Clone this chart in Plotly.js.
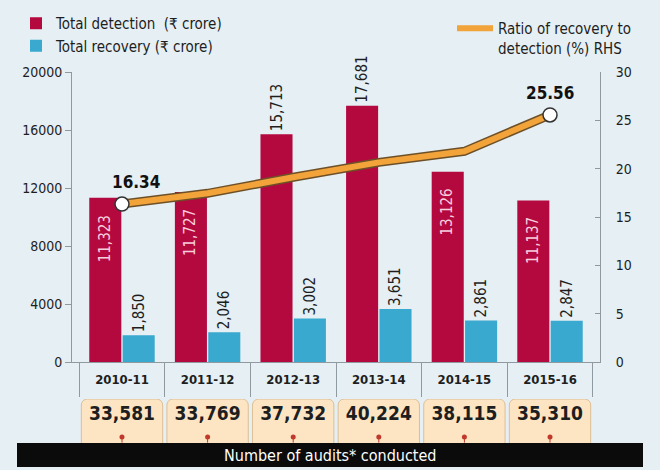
<!DOCTYPE html>
<html>
<head>
<meta charset="utf-8">
<script src="https://cdn.plot.ly/plotly-3.0.1.min.js"></script>
<style>
  html, body { margin: 0; padding: 0; background: #e5eff4; }
  #chart { width: 660px; height: 470px; }
</style>
</head>
<body>
<div id="chart"></div>
<script>
// Financial years shown on the category axis
const categories = ['2010-11', '2011-12', '2012-13', '2013-14', '2014-15', '2015-16'];
// Total detection (₹ crore)
const detection = [11323, 11727, 15713, 17681, 13126, 11137];
// Total recovery (₹ crore)
const recovery = [1850, 2046, 3002, 3651, 2861, 2847];
// Ratio of recovery to detection (%), right-hand scale
const ratio = [16.34, 17.45, 19.11, 20.65, 21.80, 25.56];
// Number of audits conducted each year
const audits = [33581, 33769, 37732, 40224, 38115, 35310];

const FONT = '"DejaVu Sans Condensed", "Liberation Sans Narrow", "Roboto", sans-serif';
const INK = '#1e1e1e';
const BG = '#e5eff4';
const RED = '#b4093f';
const BLUE = '#3aa9cf';
const ORANGE = '#f2a33a';
const ORANGE_EDGE = '#6e5028';
const AXIS = '#8e9aa0';

// Page geometry: plot area runs from the top of the value axes down to the audits band
const PX_LEFT = 72, PX_RIGHT = 600, PX_TOP = 72, PX_BOTTOM = 467;
const plotW = PX_RIGHT - PX_LEFT, plotH = PX_BOTTOM - PX_TOP;
const px2x = p => (p - PX_LEFT) / plotW;
const px2y = p => (PX_BOTTOM - p) / plotH;
const fmt = v => v.toLocaleString('en-US');

// Tall bars carry their label above the bar; the rest get it inside, below the top
const detInside = detection.map(v => v <= 15000);
const detPos = detInside.map(inside => inside ? 'none' : 'outside');

const BAR_SHIFT = -17; // centre of the detection bar within its group, px

const traces = [
  {
    type: 'bar', name: 'Total detection  (₹ crore)',
    x: categories, y: detection, xaxis: 'x', yaxis: 'y',
    marker: { color: RED },
    texttemplate: '%{y:,}', textposition: detPos, textangle: -90,
    constraintext: 'none', cliponaxis: false,
    textfont: { family: FONT, size: 15, color: INK },
    hoverinfo: 'skip', legend: 'legend'
  },
  {
    type: 'bar', name: 'Total recovery (₹ crore)',
    x: categories, y: recovery, xaxis: 'x', yaxis: 'y',
    marker: { color: BLUE },
    texttemplate: '%{y:,}', textposition: 'outside', textangle: -90,
    constraintext: 'none', cliponaxis: false,
    textfont: { family: FONT, size: 15, color: INK },
    hoverinfo: 'skip', legend: 'legend'
  },
  // dark casing under the ratio line
  {
    type: 'scatter', mode: 'lines', x: categories, y: ratio,
    xaxis: 'x', yaxis: 'y2', showlegend: false, hoverinfo: 'skip',
    line: { color: ORANGE_EDGE, width: 9 }
  },
  {
    type: 'scatter', mode: 'lines', name: 'Ratio of recovery to<br>detection (%) RHS',
    x: categories, y: ratio, xaxis: 'x', yaxis: 'y2',
    line: { color: ORANGE, width: 6 }, hoverinfo: 'skip', legend: 'legend2'
  },
  // end-point markers of the ratio line
  {
    type: 'scatter', mode: 'markers',
    x: [categories[0], categories[categories.length - 1]],
    y: [ratio[0], ratio[ratio.length - 1]],
    xaxis: 'x', yaxis: 'y2', showlegend: false, hoverinfo: 'skip',
    marker: { size: 14, color: '#ffffff', line: { color: '#333333', width: 1.5 } }
  },
  // audits boxes
  {
    type: 'bar', x: categories, y: categories.map(() => 1),
    xaxis: 'x', yaxis: 'y3', width: 0.95, showlegend: false, hoverinfo: 'skip',
    marker: { color: '#fde5c3', cornerradius: 6, line: { color: '#dcbf95', width: 1 } }
  },
  // audits numbers
  {
    type: 'scatter', mode: 'text', x: categories, y: categories.map(() => 0.66),
    xaxis: 'x', yaxis: 'y3', showlegend: false, hoverinfo: 'skip',
    text: audits.map(fmt),
    textfont: { family: FONT, size: 19, color: INK, weight: 'bold' }
  },
  // small red pins under each number
  {
    type: 'scatter', mode: 'markers', x: categories, y: categories.map(() => 0.21),
    xaxis: 'x', yaxis: 'y3', showlegend: false, hoverinfo: 'skip',
    marker: { size: 5, color: '#c0392b' },
    error_y: { type: 'constant', symmetric: false, value: 0, valueminus: 0.12, thickness: 1, width: 0, color: '#c0392b' }
  }
];

// value labels written inside the shorter detection bars
const insideLabels = categories.map((c, i) => detInside[i] ? {
  xref: 'x', yref: 'y', x: c, y: detection[i], text: fmt(detection[i]),
  showarrow: false, textangle: -90, xanchor: 'center', yanchor: 'top',
  xshift: BAR_SHIFT, yshift: -15,
  font: { family: FONT, size: 15, color: '#f7cddd' }
} : null).filter(Boolean);

const mainBottom = px2y(362);

const layout = {
  width: 660, height: 470,
  margin: { l: PX_LEFT, r: 660 - PX_RIGHT, t: PX_TOP, b: 470 - PX_BOTTOM, pad: 0 },
  paper_bgcolor: BG, plot_bgcolor: BG,
  font: { family: FONT, color: INK },
  barmode: 'group', bargap: 0.22, bargroupgap: 0.04,
  xaxis: {
    type: 'category', range: [-0.584, 5.584], anchor: 'y', automargin: false,
    showline: true, linecolor: AXIS, linewidth: 1,
    ticks: 'outside', tickson: 'boundaries', ticklen: 34, tickcolor: AXIS,
    ticklabelstandoff: 5,
    tickfont: { family: FONT, size: 13, color: INK, weight: 'bold' },
    showgrid: false, zeroline: false, fixedrange: true
  },
  yaxis: {
    domain: [mainBottom, 1], range: [0, 20000], dtick: 4000, tickformat: 'd', automargin: false,
    showline: true, linecolor: AXIS, ticks: 'outside', ticklen: 6, tickcolor: AXIS,
    tickfont: { family: FONT, size: 14, color: INK },
    showgrid: false, zeroline: false, fixedrange: true
  },
  yaxis2: {
    overlaying: 'y', side: 'right', anchor: 'x', range: [0, 30], dtick: 5, automargin: false,
    showline: true, linecolor: AXIS, ticks: 'inside', ticklen: 5, tickcolor: AXIS,
    ticklabelstandoff: 12,
    tickfont: { family: FONT, size: 14, color: INK },
    showgrid: false, zeroline: false, fixedrange: true
  },
  yaxis3: {
    domain: [px2y(447), px2y(399)], range: [0, 1], anchor: 'x',
    visible: false, fixedrange: true
  },
  legend: {
    x: px2x(16), y: px2y(7), xanchor: 'left', yanchor: 'top',
    bgcolor: 'rgba(0,0,0,0)', font: { family: FONT, size: 15, color: INK },
    tracegroupgap: 0, itemwidth: 30
  },
  legend2: {
    x: px2x(452), y: px2y(12), xanchor: 'left', yanchor: 'top', valign: 'top',
    bgcolor: 'rgba(0,0,0,0)', font: { family: FONT, size: 15, color: INK },
    itemwidth: 36
  },
  shapes: [
    {
      type: 'rect', xref: 'paper', yref: 'paper', layer: 'above',
      x0: px2x(17), x1: px2x(643), y0: px2y(467), y1: px2y(443),
      fillcolor: '#0b0b0b', line: { width: 0 }
    }
  ],
  annotations: insideLabels.concat([
    {
      xref: 'paper', yref: 'paper', x: px2x(330), y: px2y(455),
      xanchor: 'center', yanchor: 'middle',
      text: 'Number of audits* conducted', showarrow: false,
      font: { family: FONT, size: 16, color: '#ffffff' }
    },
    {
      xref: 'x', yref: 'y2', x: categories[0], y: ratio[0], text: ratio[0].toFixed(2),
      showarrow: false, xshift: 14, yshift: 22,
      font: { family: FONT, size: 17, color: '#111111', weight: 'bold' }
    },
    {
      xref: 'x', yref: 'y2', x: categories[5], y: ratio[5], text: ratio[5].toFixed(2),
      showarrow: false, xshift: 0, yshift: 22,
      font: { family: FONT, size: 17, color: '#111111', weight: 'bold' }
    }
  ])
};

Plotly.newPlot('chart', traces, layout, { staticPlot: true, displayModeBar: false });
</script>
</body>
</html>
